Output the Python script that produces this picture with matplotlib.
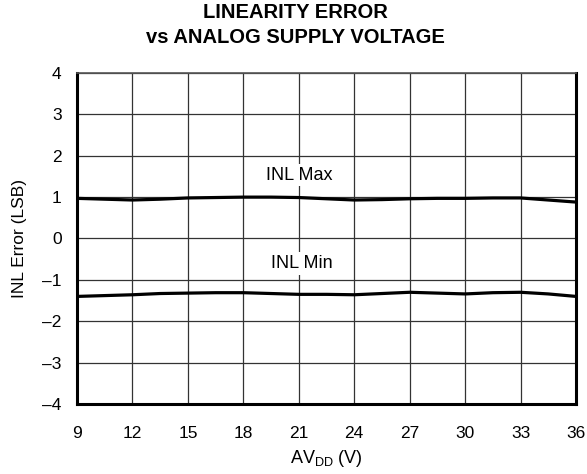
import matplotlib
matplotlib.use("Agg")
import matplotlib.pyplot as plt

plt.rcParams['font.family'] = ['Liberation Sans', 'DejaVu Sans']
plt.rcParams['mathtext.default'] = 'regular'

# Analog supply voltage (V)
avdd = [9, 10.5, 12, 13.5, 15, 16.5, 18, 19.5, 21, 22.5, 24, 25.5,
        27, 28.5, 30, 31.5, 33, 34.5, 36]
# INL error (LSB)
inl_max = [0.97, 0.95, 0.93, 0.95, 0.98, 0.99, 1.00, 1.00, 0.99, 0.96, 0.93,
           0.94, 0.96, 0.97, 0.97, 0.98, 0.98, 0.93, 0.88]
inl_min = [-1.40, -1.38, -1.36, -1.33, -1.32, -1.31, -1.31, -1.33, -1.35,
           -1.35, -1.36, -1.33, -1.30, -1.32, -1.34, -1.31, -1.30, -1.34, -1.40]

x_ticks = [9, 12, 15, 18, 21, 24, 27, 30, 33, 36]
y_ticks = [-4, -3, -2, -1, 0, 1, 2, 3, 4]

fig = plt.figure(figsize=(5.87, 4.74), dpi=100)
ax = fig.add_axes([0.1312, 0.1477, 0.8501, 0.6983])

ax.plot(avdd, inl_max, color='black', lw=2.3, zorder=3)
ax.plot(avdd, inl_min, color='black', lw=2.3, zorder=3)

ax.set_xlim(9, 36)
ax.set_ylim(-4, 4)
ax.set_xticks(x_ticks)
ax.set_yticks(y_ticks)
ax.set_yticklabels(['\u2013' + str(abs(v)) if v < 0 else str(v) for v in y_ticks])
ax.tick_params(length=0, labelsize=12.5)
ax.tick_params(axis='y', pad=11)
ax.tick_params(axis='x', pad=16)
ax.grid(True, color='#333333', lw=0.9, zorder=1)
ax.set_axisbelow(True)
for side in ['left', 'right', 'bottom']:
    ax.spines[side].set_linewidth(2.2)
ax.spines['top'].set_linewidth(1.2)
ax.spines['top'].set_color('#555555')

bbox = dict(facecolor='white', edgecolor='none', pad=2)
ax.text(21.0, 1.53, 'INL Max', ha='center', va='center', fontsize=13, bbox=bbox, zorder=2)
ax.text(21.15, -0.60, 'INL Min', ha='center', va='center', fontsize=13, bbox=bbox, zorder=2)

ax.set_xlabel('AV$_{DD}$ (V)', fontsize=13, labelpad=5)
ax.set_ylabel('INL Error (LSB)', fontsize=12.5, labelpad=11)

fig.suptitle('LINEARITY ERROR\nvs ANALOG SUPPLY VOLTAGE', x=0.503, y=0.994, va='top',
             fontsize=14.5, fontweight='bold', linespacing=1.42)

fig.savefig('out.png', dpi=100)
